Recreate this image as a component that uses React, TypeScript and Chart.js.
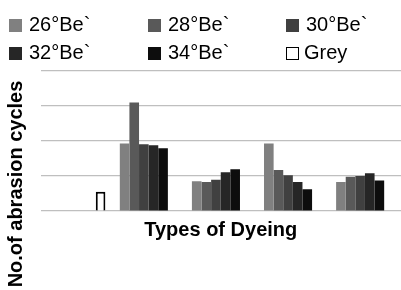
import React, { useEffect, useRef } from 'react';
import { Chart, registerables } from 'chart.js';

Chart.register(...registerables);

// Categories (tick labels are not shown in the reference)
const categories = ['Grey', 'Dyeing 1', 'Dyeing 2', 'Dyeing 3', 'Dyeing 4'];
const seriesNames = ['26°Be`', '28°Be`', '30°Be`', '32°Be`', '34°Be`', 'Grey'];

// Series values (read in grid units; y axis labels hidden in the reference)
const be26 = [null, 1.93, 0.85, 1.93, 0.83];
const be28 = [null, 3.1, 0.83, 1.17, 0.98];
const be30 = [null, 1.91, 0.89, 1.02, 1.0];
const be32 = [null, 1.88, 1.11, 0.83, 1.08];
const be34 = [null, 1.79, 1.19, 0.62, 0.87];
const greyValues = [0.55, null, null, null, null];

const yMin = 0;
const yMax = 4;
const yStep = 1;

const seriesValues = [be26, be28, be30, be32, be34, greyValues];
const fillColors = ['#808080', '#595959', '#404040', '#262626', '#0d0d0d', '#ffffff'];
const borderColors = ['#808080', '#595959', '#404040', '#262626', '#0d0d0d', '#000000'];

const FONT = '"Liberation Sans", Arial, sans-serif';

export default function App() {
  const canvasRef = useRef<HTMLCanvasElement | null>(null);

  useEffect(() => {
    document.body.style.margin = '0';
    document.body.style.background = '#ffffff';
    const canvas = canvasRef.current;
    if (!canvas) return;
    const chart = new Chart(canvas, {
      type: 'bar',
      data: {
        labels: categories,
        datasets: seriesNames.map((name, i) => ({
          label: name,
          data: seriesValues[i],
          backgroundColor: fillColors[i],
          borderColor: borderColors[i],
          borderWidth: i === 5 ? 2 : 0,
          barPercentage: 1,
          categoryPercentage: 0.8,
        })),
      },
      options: {
        animation: false,
        responsive: false,
        maintainAspectRatio: false,
        layout: { padding: { left: 40.5, right: -2, top: 71, bottom: 48 } },
        plugins: {
          legend: { display: false },
          tooltip: { enabled: false },
        },
        scales: {
          x: {
            ticks: { display: false },
            grid: { display: false, drawTicks: false },
            border: { display: false },
            title: {
              display: true,
              text: 'Types of Dyeing',
              color: '#000000',
              font: { family: FONT, size: 20, weight: 'bold' },
              padding: { top: 7, bottom: 0 },
            },
          },
          y: {
            min: yMin,
            max: yMax,
            ticks: { display: false, stepSize: yStep },
            grid: { color: '#bfbfbf', lineWidth: 1.2, drawTicks: false },
            border: { display: false },
          },
        },
      },
    });
    return () => chart.destroy();
  }, []);

  return (
    <div style={{ position: 'relative', width: 401, height: 290, background: '#fff', overflow: 'hidden' }}>
      <canvas ref={canvasRef} width={401} height={290} style={{ position: 'absolute', left: 0, top: 0 }} />
      {seriesNames.map((name, i) => {
        const col = i % 3;
        const row = Math.floor(i / 3);
        const left = [9, 148, 286][col];
        const top = 12 + row * 28;
        return (
          <div
            key={name}
            style={{
              position: 'absolute',
              left,
              top,
              height: 24,
              whiteSpace: 'nowrap',
              fontFamily: FONT,
              fontSize: 20,
              lineHeight: '24px',
              color: '#000',
            }}
          >
            <span
              style={{
                position: 'absolute',
                left: 0,
                top: 6.5,
                width: 13,
                height: 13,
                boxSizing: 'border-box',
                background: fillColors[i],
                border: i === 5 ? '1.5px solid #000' : 'none',
              }}
            />
            <span style={{ position: 'absolute', left: i === 5 ? 18 : 20, top: 0 }}>{name}</span>
          </div>
        );
      })}
      <div
        style={{
          position: 'absolute',
          left: 14.5 - 130,
          top: 183.5 - 12,
          width: 260,
          height: 24,
          lineHeight: '24px',
          textAlign: 'center',
          fontFamily: FONT,
          fontSize: 20,
          fontWeight: 'bold',
          color: '#000',
          whiteSpace: 'nowrap',
          transform: 'rotate(-90deg)',
        }}
      >
        No.of abrasion cycles
      </div>
    </div>
  );
}
